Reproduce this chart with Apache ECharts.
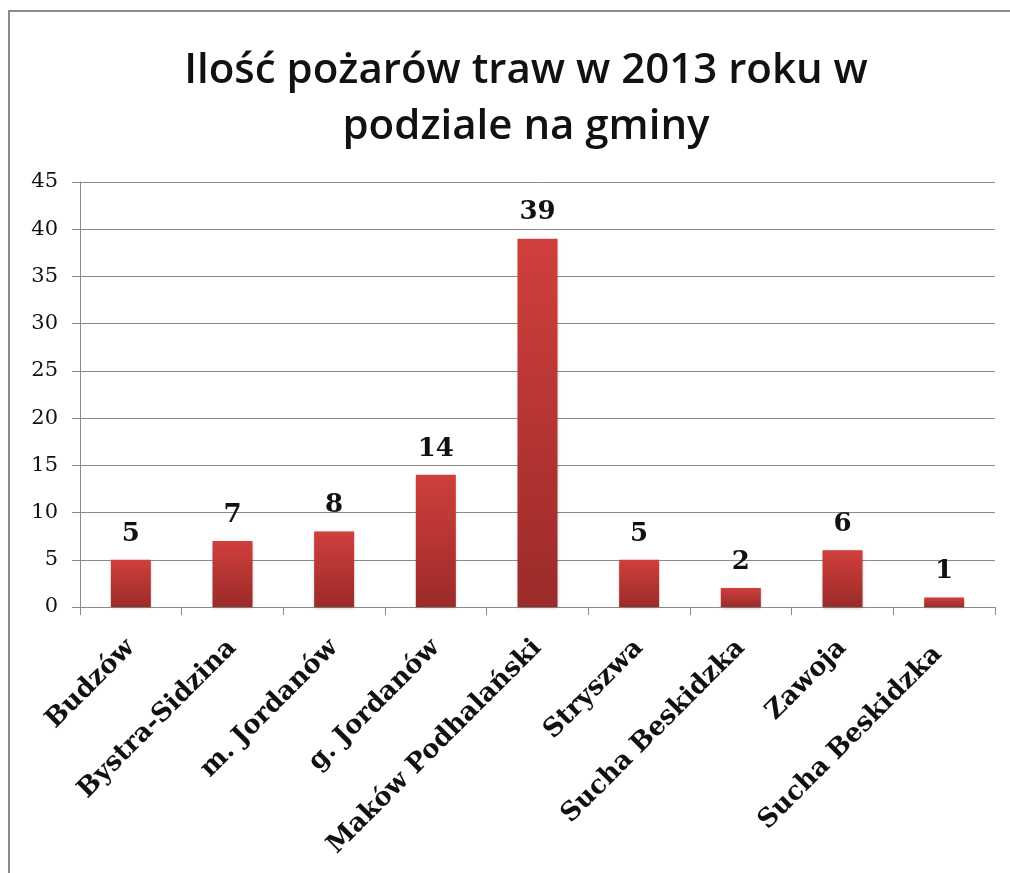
<!DOCTYPE html>
<html>
<head>
<meta charset="utf-8">
<script src="https://cdn.jsdelivr.net/npm/echarts@6/dist/echarts.min.js"></script>
<style>
  html, body { margin: 0; padding: 0; background: #fff; }
  #chart { width: 1010px; height: 873px; }
</style>
</head>
<body>
<div id="chart"></div>
<script>
const titleText = 'Ilość pożarów traw w 2013 roku w\npodziale na gminy'
const categories = ['Budzów', 'Bystra-Sidzina', 'm. Jordanów', 'g. Jordanów', 'Maków Podhalański', 'Stryszwa', 'Sucha Beskidzka', 'Zawoja', 'Sucha Beskidzka ']
const values = [5, 7, 8, 14, 39, 5, 2, 6, 1]
const yMax = 45
const yStep = 5

const chart = echarts.init(document.getElementById('chart'))

chart.setOption({
  animation: false,
  graphic: [{
    type: 'rect',
    shape: { x: 9, y: 11, width: 1100, height: 900 },
    style: { fill: 'none', stroke: '#8a8a8a', lineWidth: 2 },
    silent: true
  }],
  title: {
    text: titleText,
    left: 521,
    top: 38,
    textAlign: 'center',
    textStyle: {
      fontFamily: 'Open Sans',
      fontWeight: 600,
      fontSize: 42,
      lineHeight: 56,
      color: '#111'
    }
  },
  grid: { left: 80, right: 15, top: 182, bottom: 266 },
  xAxis: {
    type: 'category',
    data: categories,
    axisLine: { lineStyle: { color: '#8a8a8a', width: 1 } },
    axisTick: { show: true, length: 8, lineStyle: { color: '#8a8a8a' } },
    axisLabel: {
      rotate: 45,
      interval: 0,
      margin: 37,
      fontFamily: 'DejaVu Serif',
      fontWeight: 'bold',
      fontSize: 26,
      color: '#111'
    }
  },
  yAxis: {
    type: 'value',
    min: 0,
    max: yMax,
    interval: yStep,
    axisLine: { show: true, lineStyle: { color: '#8a8a8a', width: 1 } },
    axisTick: { show: true, length: 8, lineStyle: { color: '#8a8a8a' } },
    splitLine: { lineStyle: { color: '#8a8a8a', width: 1 } },
    axisLabel: {
      margin: 22,
      fontFamily: 'DejaVu Serif',
      fontSize: 21,
      color: '#111'
    }
  },
  series: [{
    type: 'bar',
    data: values,
    barWidth: 40,
    itemStyle: {
      color: new echarts.graphic.LinearGradient(0, 0, 0, 1, [
        { offset: 0, color: '#d03f3c' },
        { offset: 1, color: '#9b2b29' }
      ]),
      shadowColor: 'rgba(0,0,0,0.25)',
      shadowBlur: 3,
      shadowOffsetY: 1
    },
    label: {
      show: true,
      position: 'top',
      distance: 13,
      fontFamily: 'DejaVu Serif',
      fontWeight: 'bold',
      fontSize: 26,
      color: '#111'
    }
  }]
})
</script>
</body>
</html>
